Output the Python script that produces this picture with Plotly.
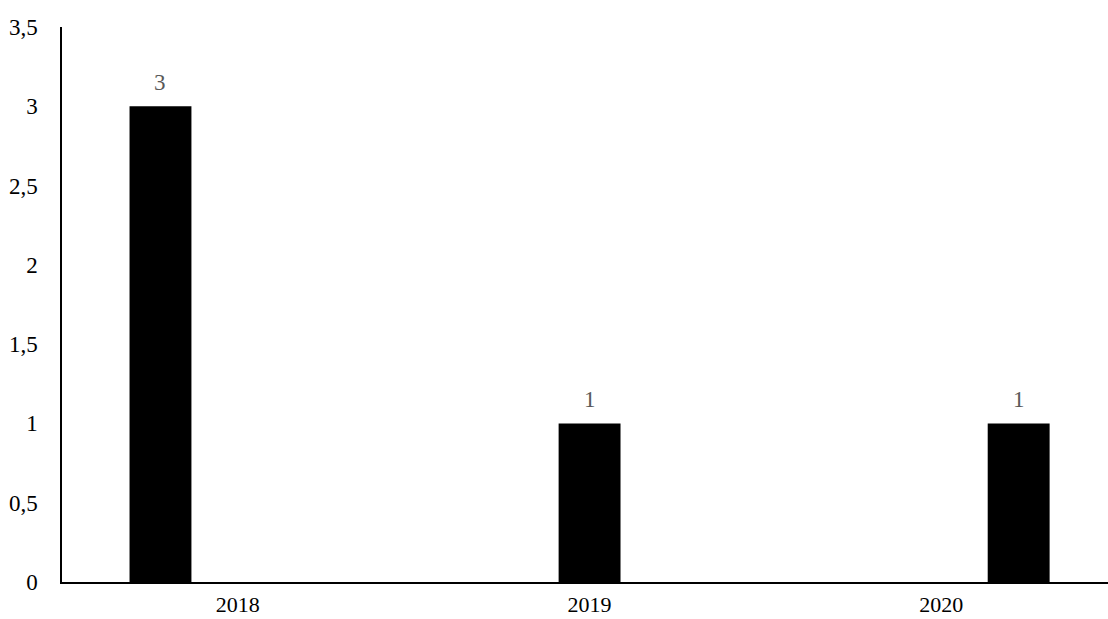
import plotly.graph_objects as go

years = ["2018", "2019", "2020"]
series_a = [3, 0, 0]
series_b = [0, 1, 0]
series_c = [0, 0, 1]
y_ticks = [0, 0.5, 1, 1.5, 2, 2.5, 3, 3.5]

FONT = "Liberation Serif, Times New Roman, serif"

fig = go.Figure()
for vals in (series_a, series_b, series_c):
    fig.add_trace(go.Bar(x=years, y=vals, marker=dict(color="black", line=dict(width=0)),
                         showlegend=False, hoverinfo="skip"))

# value labels above the non-empty bars
for idx, vals in enumerate((series_a, series_b, series_c)):
    for j, v in enumerate(vals):
        if v:
            fig.add_annotation(x=j + (idx - 1) * 0.22, y=v, xref="x", yref="y",
                               text=str(v), showarrow=False, yanchor="bottom",
                               yshift=9, font=dict(family=FONT, size=23, color="#595959"))

fig.update_layout(
    width=1108, height=619,
    margin=dict(l=62, r=0, t=27, b=37),
    paper_bgcolor="white", plot_bgcolor="white",
    barmode="group", bargap=0.34, bargroupgap=0.2,
    separators=", ",
    font=dict(family=FONT, size=23, color="black"),
)
fig.update_xaxes(type="category", range=[-0.5, 2.474], showline=True, linecolor="black",
                 linewidth=1.5, ticks="", showgrid=False, ticklabelstandoff=2,
                 tickfont=dict(size=22), automargin=False)
fig.update_yaxes(range=[0, 3.5], tickvals=y_ticks, showline=True, linecolor="black",
                 linewidth=1.5, ticks="", showgrid=False, zeroline=False,
                 ticklabelstandoff=18, automargin=False)

fig.write_html("out.html")
